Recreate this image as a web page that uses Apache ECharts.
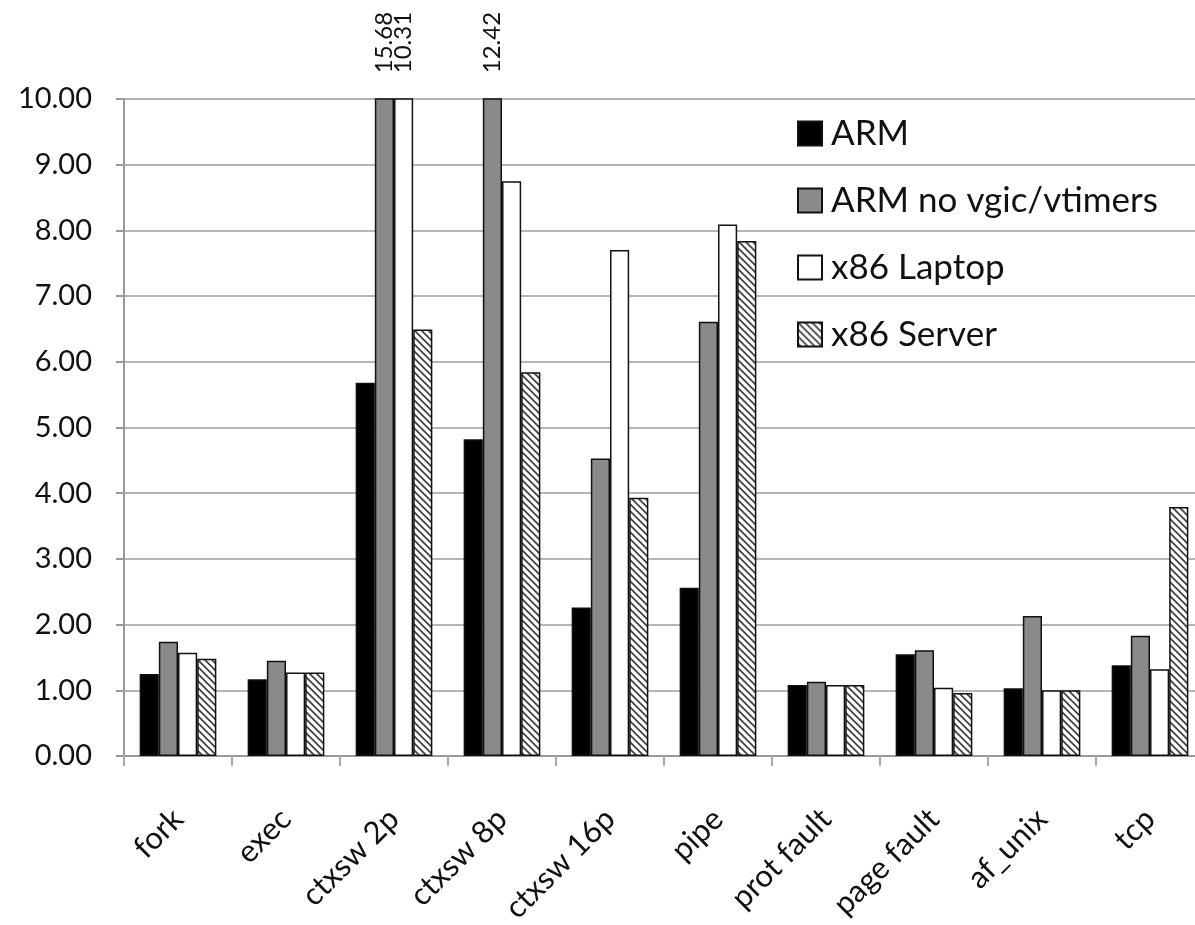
<!DOCTYPE html>
<html>
<head>
<meta charset="utf-8">
<script src="https://cdn.jsdelivr.net/npm/echarts@6/dist/echarts.min.js"></script>
<style>
html,body{margin:0;padding:0;background:#fff;}
#chart{width:1195px;height:925px;}
</style>
</head>
<body>
<div id="chart"></div>
<script>
const categories = ['fork','exec','ctxsw 2p','ctxsw 8p','ctxsw 16p','pipe','prot fault','page fault','af_unix','tcp'];
const seriesNames = ['ARM','ARM no vgic/vtimers','x86 Laptop','x86 Server'];
const armValues      = [1.25, 1.17, 5.68, 4.82, 2.26, 2.56, 1.08, 1.55, 1.03, 1.38];
const armNoVgic      = [1.74, 1.45, 15.68, 12.42, 4.53, 6.61, 1.13, 1.61, 2.13, 1.83];
const x86Laptop      = [1.57, 1.27, 10.31, 8.75, 7.70, 8.09, 1.08, 1.04, 1.00, 1.32];
const x86Server      = [1.48, 1.27, 6.49, 5.84, 3.93, 7.84, 1.08, 0.96, 1.00, 3.79];
const yTicks = [0,1,2,3,4,5,6,7,8,9,10];
const yMax = 10;

function hatch() {
  const c = document.createElement('canvas');
  c.width = 7; c.height = 7;
  const g = c.getContext('2d');
  g.fillStyle = '#ffffff';
  g.fillRect(0,0,7,7);
  g.strokeStyle = '#444';
  g.lineWidth = 1.8;
  g.beginPath();
  g.moveTo(-1,-1); g.lineTo(8,8);
  g.moveTo(-8,-1); g.lineTo(1,8);
  g.moveTo(6,-1); g.lineTo(15,8);
  g.stroke();
  return c;
}

const fills = ['#000000', '#8a8a8a', '#ffffff', {image: hatch(), repeat: 'repeat'}];
const allValues = [armValues, armNoVgic, x86Laptop, x86Server];
const FONT = 'Lato';

function buildData(vals) {
  return vals.map(v => {
    if (v > yMax) {
      return {
        value: v,
        label: {
          show: true, position: 'top', distance: 25, rotate: 90,
          align: 'left', verticalAlign: 'middle',
          formatter: () => v.toFixed(2),
          fontFamily: FONT, fontSize: 24, color: '#111'
        }
      };
    }
    return v;
  });
}

const chart = echarts.init(document.getElementById('chart'), null, {renderer: 'canvas'});
chart.setOption({
  animation: false,
  backgroundColor: '#fff',
  grid: {left: 124, top: 99, width: 1080, height: 657, containLabel: false, outerBoundsMode: 'none'},
  legend: {
    orient: 'vertical', left: 792, top: 111,
    itemWidth: 24, itemHeight: 24, itemGap: 32,
    icon: 'rect',
    data: seriesNames,
    textStyle: {fontFamily: FONT, fontSize: 35, lineHeight: 34, color: '#111', padding: [0,0,0,4]}
  },
  xAxis: {
    type: 'category', data: categories,
    axisLine: {lineStyle: {color: '#999', width: 2}},
    axisTick: {show: true, length: 10, lineStyle: {color: '#aaa', width: 2}, alignWithLabel: false},
    axisLabel: {rotate: 45, margin: 58, fontFamily: FONT, fontSize: 31, color: '#111', interval: 0}
  },
  yAxis: {
    type: 'value', min: 0, max: yMax, interval: 1,
    axisLine: {show: true, lineStyle: {color: '#999', width: 2}},
    axisTick: {show: true, length: 8, lineStyle: {color: '#999', width: 2}},
    splitLine: {lineStyle: {color: '#b5b5b5', width: 2}},
    axisLabel: {margin: 32, fontFamily: FONT, fontSize: 29, color: '#111',
      formatter: v => yTicks.includes(v) ? v.toFixed(2) : ''}
  },
  series: seriesNames.map((name, i) => ({
    name, type: 'bar',
    data: buildData(allValues[i]),
    barGap: '0%', barCategoryGap: '29%',
    clip: true,
    itemStyle: {color: fills[i], borderColor: '#111', borderWidth: 1.5}
  }))
});
</script>
</body>
</html>
